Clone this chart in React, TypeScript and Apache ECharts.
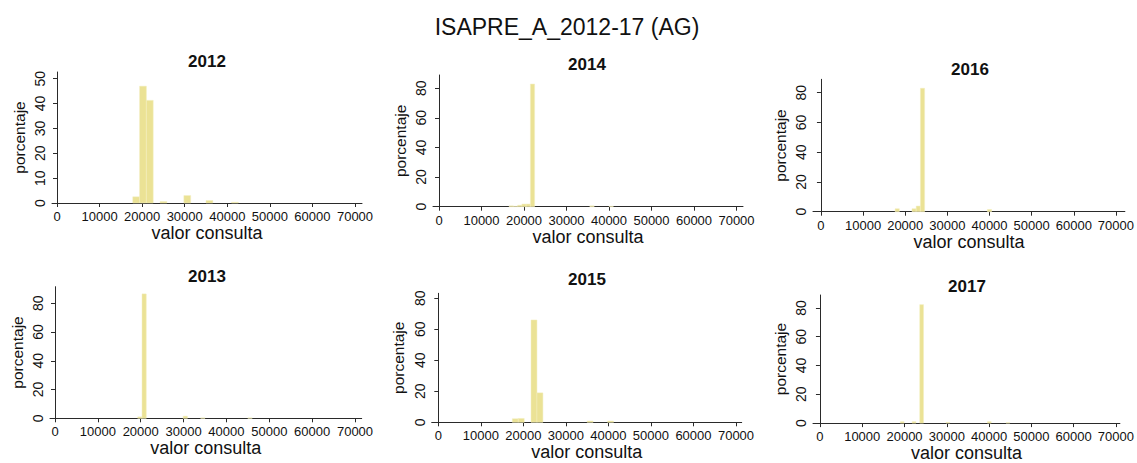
import React, { useEffect, useRef } from "react";
import * as echarts from "echarts";

// ---- data ----
const mainTitle = "ISAPRE_A_2012-17 (AG)";
const years = ["2012", "2014", "2016", "2013", "2015", "2017"];
const xTicks = [0, 10000, 20000, 30000, 40000, 50000, 60000, 70000];
const yTicks2012 = [0, 10, 20, 30, 40, 50];
const yTicksOther = [0, 20, 40, 60, 80];

const binWidth2012 = 1600;
const binStart2012 = [17800, 19400, 21000, 24200, 29800, 35000, 41000];
const pct2012 = [2.5, 47, 41.3, 0.6, 3, 1, 0.3];

const binWidth2013 = 1000;
const binStart2013 = [19300, 20300, 29900, 34000, 45000];
const pct2013 = [1, 86.5, 1.5, 0.3, 0.3];

const binWidth2014 = 1000;
const binStart2014 = [16500, 17500, 18500, 19500, 20500, 21500, 35500, 40000];
const pct2014 = [0.6, 0.3, 1, 1.8, 1.8, 82.8, 0.6, 0.3];

const binWidth2015 = 1400;
const binStart2015 = [17400, 18800, 21800, 23200, 35000, 39800];
const pct2015 = [2.3, 2.5, 66, 19, 0.8, 0.8];

const binWidth2016 = 1000;
const binStart2016 = [17600, 21600, 22600, 23600, 39500];
const pct2016 = [2, 2, 3.8, 83, 1.5];

const binWidth2017 = 900;
const binStart2017 = [19000, 21800, 23600, 29800, 39600, 44000];
const pct2017 = [1, 1, 82.3, 0.5, 1, 0.3];

const yearData: Record<string, { w: number; s: number[]; p: number[] }> = {
  "2012": { w: binWidth2012, s: binStart2012, p: pct2012 },
  "2013": { w: binWidth2013, s: binStart2013, p: pct2013 },
  "2014": { w: binWidth2014, s: binStart2014, p: pct2014 },
  "2015": { w: binWidth2015, s: binStart2015, p: pct2015 },
  "2016": { w: binWidth2016, s: binStart2016, p: pct2016 },
  "2017": { w: binWidth2017, s: binStart2017, p: pct2017 },
};

// ---- layout (pixels) ----
const layout = [
  { L: 52, R: 362, x0: 57, x70: 355, T: 72, B: 203, yMax: 52.7, tx: 207, ty: 61 },
  { L: 433, R: 743, x0: 439, x70: 736.5, T: 75, B: 206.7, yMax: 88.9, tx: 587, ty: 64 },
  { L: 813, R: 1127, x0: 821, x70: 1118, T: 79.3, B: 211.7, yMax: 89, tx: 970, ty: 69 },
  { L: 50, R: 361.7, x0: 55, x70: 355, T: 286.7, B: 418.3, yMax: 91.5, tx: 207, ty: 276 },
  { L: 431.7, R: 741.7, x0: 438.3, x70: 736, T: 293.3, B: 422.3, yMax: 83.2, tx: 587, ty: 279 },
  { L: 813, R: 1122, x0: 820, x70: 1118, T: 295, B: 426.7, yMax: 89, tx: 967, ty: 286 },
];

const FONT = "Liberation Sans";
const TEXT = "#111111";
const AXIS = "#2a2a2a";
const BAR = "#ebe295";

export default function App() {
  const ref = useRef<HTMLDivElement>(null);
  useEffect(() => {
    if (!ref.current) return;
    const chart = echarts.init(ref.current, undefined, { renderer: "svg" });
    const grids: any[] = [];
    const xAxes: any[] = [];
    const yAxes: any[] = [];
    const series: any[] = [];
    const graphics: any[] = [
      {
        type: "text",
        x: 567,
        y: 27,
        style: {
          text: mainTitle,
          font: `23px "${FONT}"`,
          fill: TEXT,
          textAlign: "center",
          textVerticalAlign: "middle",
        },
      },
    ];
    years.forEach((yr, i) => {
      const g = layout[i];
      const k = (g.x70 - g.x0) / 70000;
      const xmin = -(g.x0 - g.L) / k;
      const xmax = 70000 + (g.R - g.x70) / k;
      grids.push({ left: g.L, top: g.T, width: g.R - g.L, height: g.B - g.T });
      xAxes.push({
        type: "value",
        gridIndex: i,
        min: xmin,
        max: xmax,
        name: "valor consulta",
        nameLocation: "middle",
        nameGap: 17,
        nameTextStyle: { fontFamily: FONT, fontSize: 18, color: TEXT },
        axisLine: { show: true, onZero: false, lineStyle: { color: AXIS, width: 1 } },
        axisTick: { show: true, length: 4, customValues: xTicks, lineStyle: { color: AXIS } },
        axisLabel: {
          customValues: xTicks,
          fontFamily: FONT,
          fontSize: 13,
          color: TEXT,
          margin: 7,
          formatter: (v: number) => String(Math.round(v)),
        },
        splitLine: { show: false },
      });
      const yt = yr === "2012" ? yTicks2012 : yTicksOther;
      yAxes.push({
        type: "value",
        gridIndex: i,
        min: 0,
        max: g.yMax,
        name: "porcentaje",
        nameLocation: "middle",
        nameGap: 25,
        nameRotate: 90,
        nameTextStyle: { fontFamily: FONT, fontSize: 15.5, color: TEXT },
        axisLine: { show: true, lineStyle: { color: AXIS, width: 1 } },
        axisTick: { show: true, length: 4, customValues: yt, lineStyle: { color: AXIS } },
        axisLabel: {
          customValues: yt,
          rotate: 90,
          fontFamily: FONT,
          fontSize: 14,
          color: TEXT,
          margin: 5,
        },
        splitLine: { show: false },
      });
      const d = yearData[yr];
      series.push({
        type: "custom",
        xAxisIndex: i,
        yAxisIndex: i,
        encode: { x: [0, 1], y: 2 },
        data: d.s.map((s, j) => [s, s + d.w, d.p[j]]),
        renderItem: (params: any, api: any) => {
          const a = api.coord([api.value(0), api.value(2)]);
          const b = api.coord([api.value(1), 0]);
          return {
            type: "rect",
            shape: { x: a[0], y: a[1], width: b[0] - a[0], height: b[1] - a[1] },
            style: { fill: BAR, stroke: "#f3eec0", lineWidth: 0.5 },
          };
        },
        z: 1,
      });
      graphics.push({
        type: "text",
        x: g.tx,
        y: g.ty,
        style: {
          text: yr,
          font: `bold 17px "${FONT}"`,
          fill: TEXT,
          textAlign: "center",
          textVerticalAlign: "middle",
        },
      });
    });
    chart.setOption({
      animation: false,
      backgroundColor: "#ffffff",
      grid: grids,
      xAxis: xAxes,
      yAxis: yAxes,
      series,
      graphic: graphics,
    });
    return () => chart.dispose();
  }, []);
  return (
    <div
      ref={ref}
      style={{ position: "fixed", left: 0, top: 0, width: 1137, height: 463, background: "#fff" }}
    />
  );
}
